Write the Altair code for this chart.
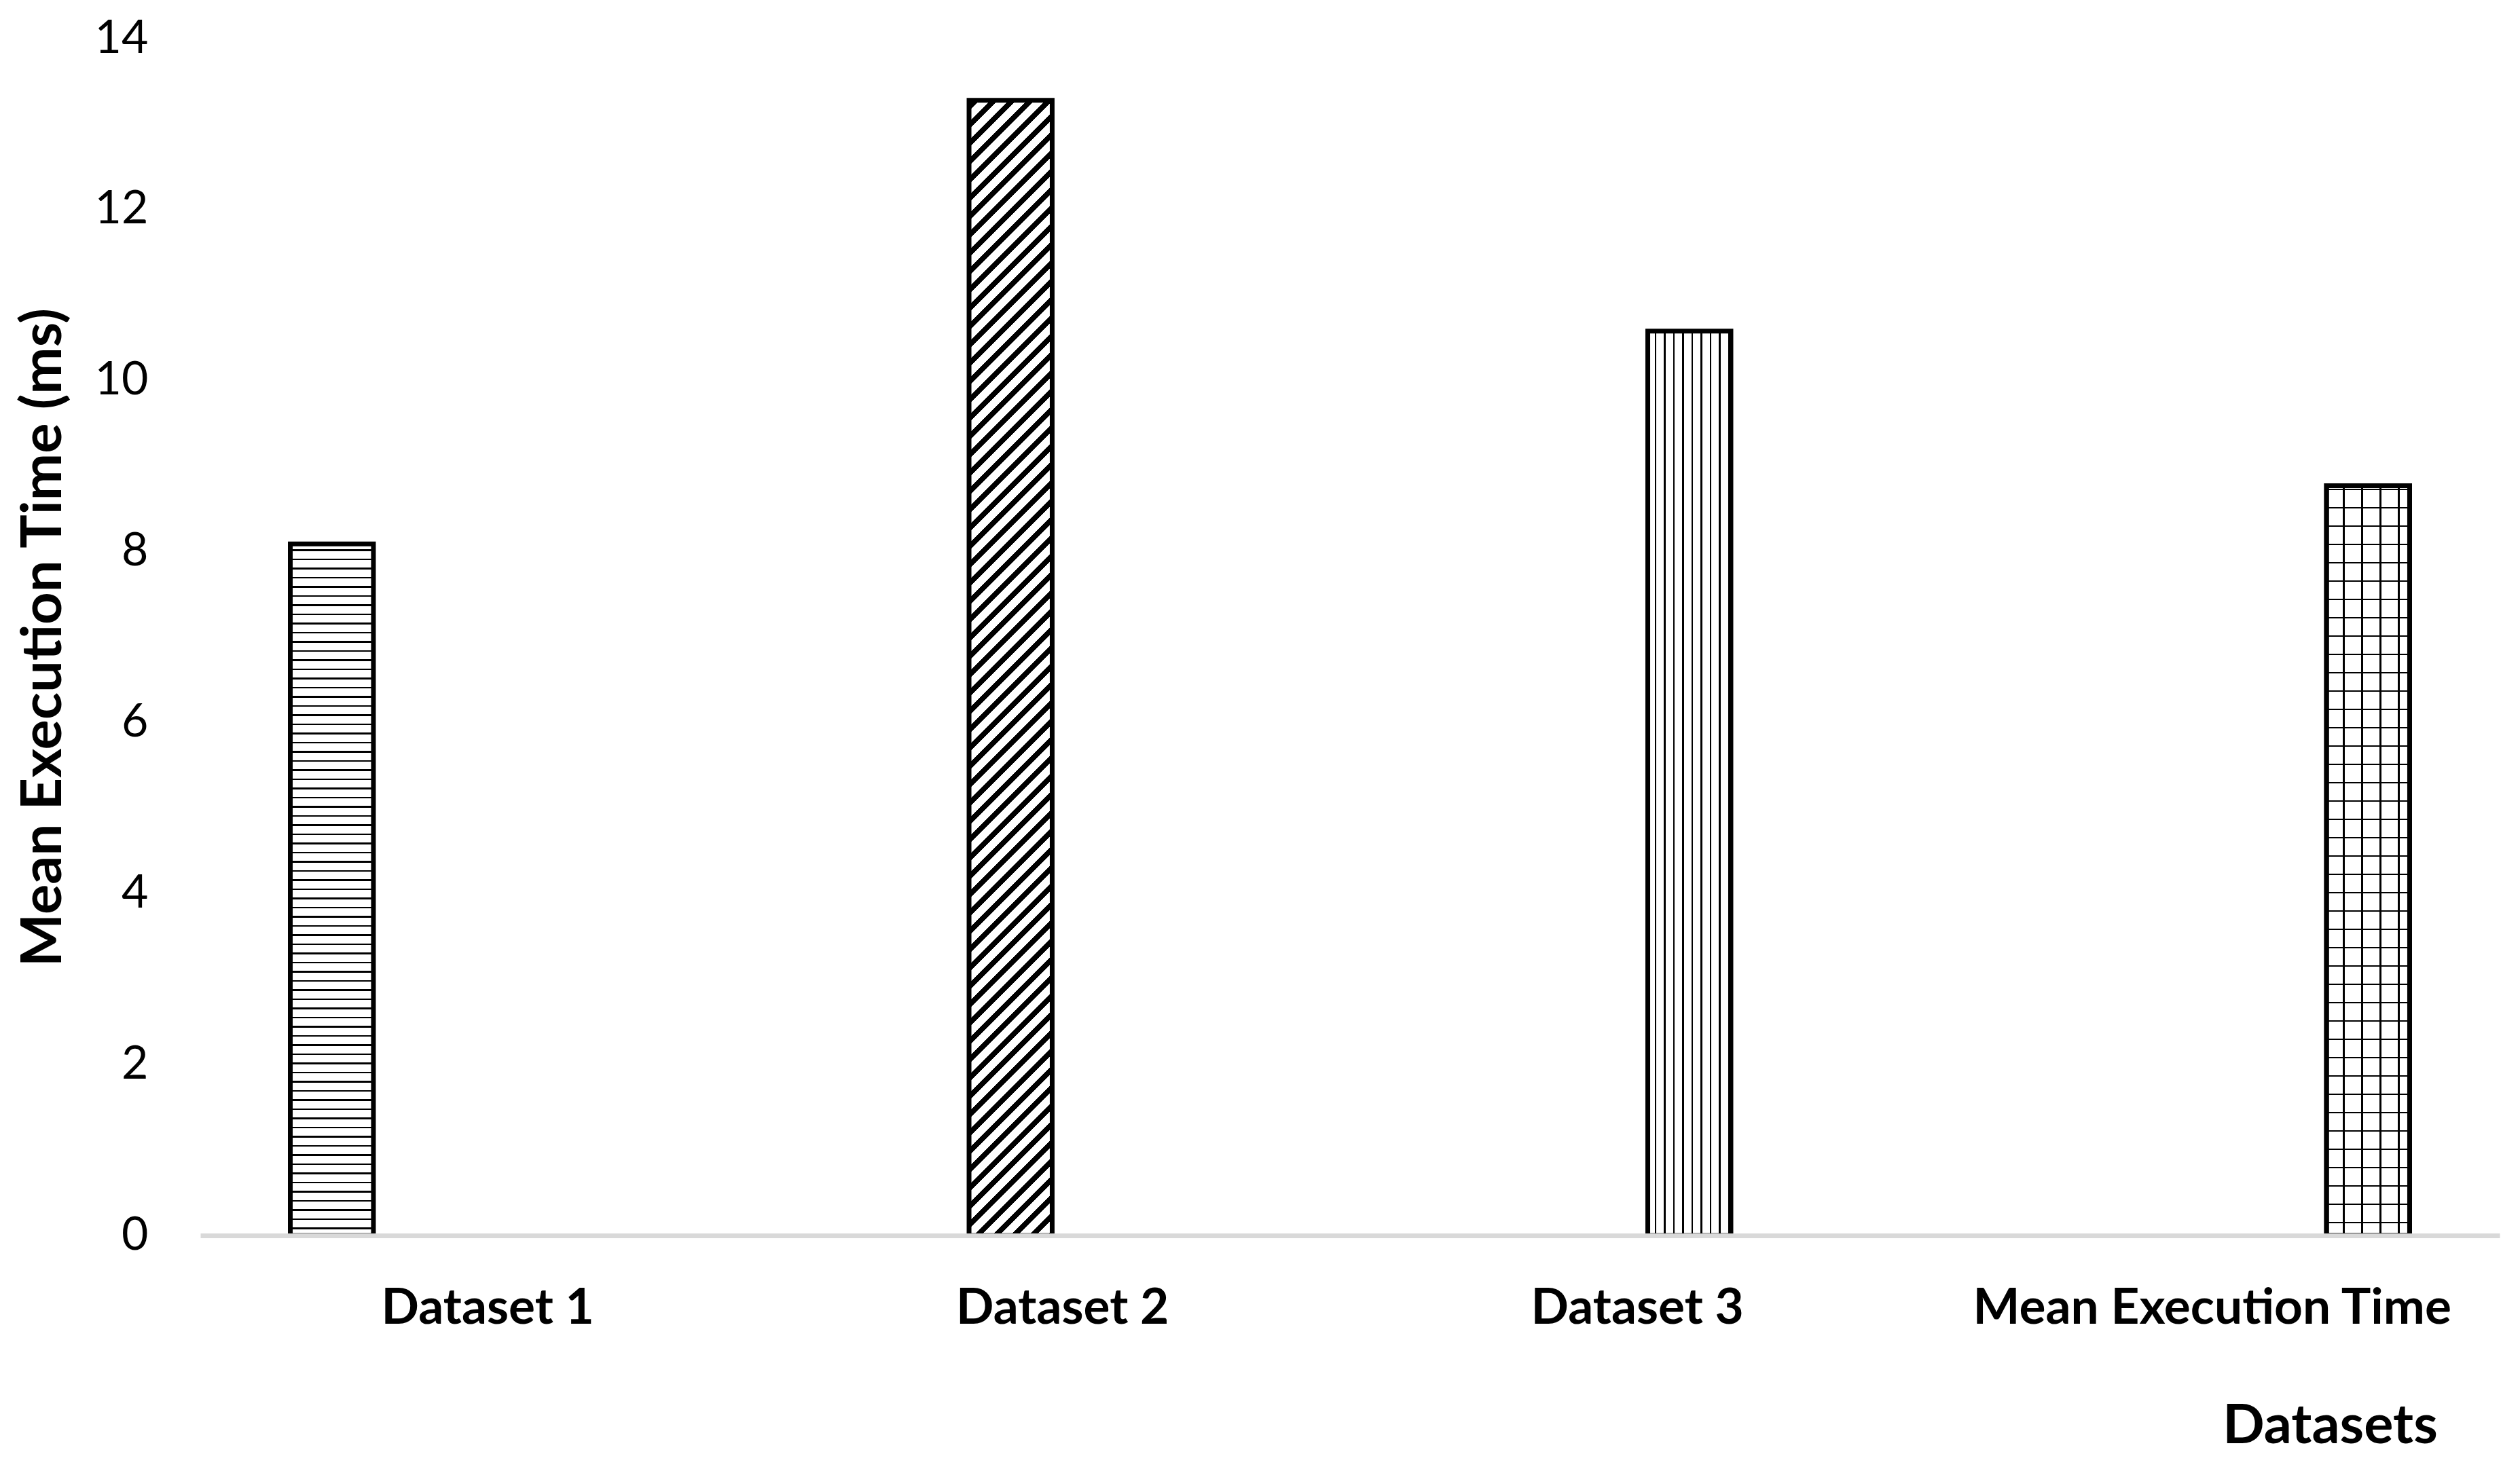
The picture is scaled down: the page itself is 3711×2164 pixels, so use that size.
import altair as alt
import pandas as pd

# ---- data ----
categories = ["Dataset 1", "Dataset 2", "Dataset 3", "Mean Execution Time"]
series = ["Dataset 1", "Dataset 2", "Dataset 3", "Mean Execution Time"]
values = [8.09, 13.28, 10.58, 8.77]
y_ticks = [0, 2, 4, 6, 8, 10, 12, 14]

df = pd.DataFrame({"category": categories, "series": series, "value": values})

# ---- layout (plot area) ----
W, H = 3386, 1763
YMAX = 14
PPU = H / YMAX
P_IN, P_OUT = 0.2, 0.866
band = W / len(categories)
step = band / (len(series) - P_IN + 2 * P_OUT)
BW = step * (1 - P_IN)

FONT = "Lato"


def stripes(length, period, thick, fg, bg, phase=0.0):
    stops = [{"offset": 0, "color": bg}]
    k = 0
    while True:
        a = phase + k * period
        if a >= length:
            break
        b = min(a + thick, length)
        oa, ob = round(a / length, 6), round(b / length, 6)
        stops += [
            {"offset": oa, "color": bg},
            {"offset": oa, "color": fg},
            {"offset": ob, "color": fg},
            {"offset": ob, "color": bg},
        ]
        k += 1
    stops.append({"offset": 1, "color": bg})
    return stops


def horiz(value, period, thick, phase, bg="white"):
    h = value * PPU
    return {"gradient": "linear", "x1": 0, "y1": 0, "x2": 0, "y2": 1,
            "stops": stripes(h, period, thick, "black", bg, phase)}


def vert(period, thick, phase, bg="white"):
    return {"gradient": "linear", "x1": 0, "y1": 0, "x2": 1, "y2": 0,
            "stops": stripes(BW, period, thick, "black", bg, phase)}


def diag(value, period, thick, phase):
    w, h = BW, value * PPU
    k = (w + h) / (w * w + h * h)
    return {"gradient": "linear", "x1": 0, "y1": 0, "x2": round(w * k, 6), "y2": round(h * k, 6),
            "stops": stripes(w + h, period, thick, "black", "white", phase)}


fills = [
    [horiz(values[0], 13.5, 2.6, 8)],
    [diag(values[1], 27, 11, 5)],
    [vert(13.5, 2.6, 10)],
    [horiz(values[3], 27, 2.6, 4), vert(27, 2.6, 24, bg="rgba(0,0,0,0)")],
]

x_axis = alt.Axis(
    title="Datasets", labelAngle=0, labelFont=FONT, labelFontSize=73, labelFontWeight="bold",
    labelColor="black", labelPadding=107, labelBaseline="middle", labelLimit=0,
    ticks=False, tickSize=0,
    domain=True, domainColor="#D9D9D9", domainWidth=7, grid=False,
    titleFont=FONT, titleFontSize=81, titleFontWeight="bold", titleColor="black",
    titleX=3136, titleY=281, titleAlign="center", titleBaseline="middle", zindex=1,
)
y_axis = alt.Axis(
    title="Mean Execution Time (ms)", values=y_ticks, labelFont=FONT, labelFontSize=68,
    labelColor="black", labelPadding=77, labelBaseline="middle", ticks=False, tickSize=0,
    domain=False, grid=False, titleLimit=0,
    titleFont=FONT, titleFontSize=83, titleFontWeight="bold", titleColor="black",
    titleAngle=270, titleX=-231, titleY=H / 2, titleAlign="center", titleBaseline="middle",
)

base = alt.Chart(df).encode(
    x=alt.X("category:N", sort=categories,
            scale=alt.Scale(domain=categories, paddingInner=0, paddingOuter=0), axis=x_axis),
    xOffset=alt.XOffset("series:N", sort=series,
                        scale=alt.Scale(domain=series, paddingInner=P_IN, paddingOuter=P_OUT)),
    y=alt.Y("value:Q", scale=alt.Scale(domain=[0, YMAX], nice=False, zero=True), axis=y_axis),
)

layers = []
for s, fl in zip(series, fills):
    for f in fl:
        layers.append(
            base.transform_filter(alt.datum.series == s).mark_bar(
                fill=f, stroke="black", strokeWidth=7, strokeJoin="miter"
            )
        )

chart = alt.layer(*layers).properties(
    width=W, height=H,
    autosize=alt.AutoSizeParams(type="none"),
    padding={"left": 287, "top": 49, "right": 20, "bottom": 330},
    background="white",
).configure_view(stroke=None)

chart.save("out.html", embed_options={"renderer": "svg", "actions": False})
